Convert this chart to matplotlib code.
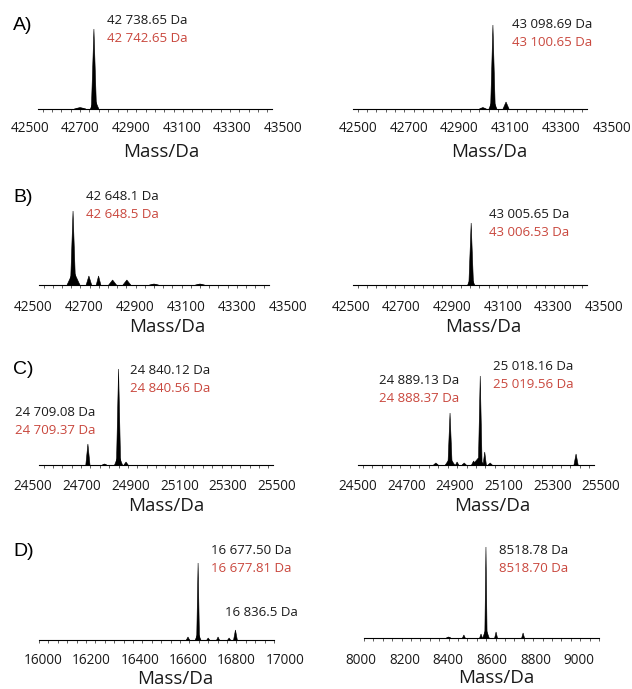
import matplotlib
matplotlib.use("Agg")
import matplotlib.pyplot as plt
from matplotlib.ticker import MultipleLocator

plt.rcParams["font.family"] = ["Open Sans", "DejaVu Sans"]

# peaks: centre (Da), height (relative), half width (Da)
aL_mz = [42680, 42742, 42739]
aL_int = [1.5, 10, 80]
aL_w = [25, 18, 11]

aR_mz = [43055, 43098, 43098, 43154]
aR_int = [1.5, 10, 84, 7]
aR_w = [15, 17, 10, 13]

bL_mz = [42650, 42648, 42717, 42759, 42820, 42882, 43000, 43200]
bL_int = [14, 74, 9, 9, 5, 5, 1, 1]
bL_w = [28, 11, 12, 10, 17, 17, 20, 20]

bR_mz = [43005, 43005]
bR_int = [8, 62]
bR_w = [15, 10]

cL_mz = [24709, 24780, 24840, 24840, 24872]
cL_int = [21, 1, 10, 96, 3]
cL_w = [9, 10, 17, 9, 9]

cR_mz = [24830, 24890, 24890, 24920, 24950, 24990, 25010, 25018, 25037, 25060, 25424]
cR_int = [2, 7, 52, 3, 2, 4, 7, 89, 13, 2, 11]
cR_w = [10, 20, 9, 7, 9, 9, 25, 8, 7, 9, 9]

dL_mz = [16634, 16677, 16677, 16720, 16762, 16809, 16836]
dL_int = [3, 7, 77, 2, 3, 2, 10]
dL_w = [7, 12, 6, 6, 6, 6, 8]

dR_mz = [8360, 8425, 8498, 8519, 8519, 8562, 8677]
dR_int = [1, 3, 4, 9, 91, 6, 5]
dR_w = [10, 6, 6, 14, 5, 6, 6]

ranges = {"A": (42500, 43500), "B": (42500, 43500), "C": (24500, 25500), "D": (16000, 17000)}
dr_range = (8000, 9000)

W, H = 632, 689
fig = plt.figure(figsize=(W / 100, H / 100), dpi=100)
RED = "#c9473d"


def fx(x):
    return x / W


def fy(y):
    return 1 - y / H


def panel(mz, inten, wid, xr, left, right, base, lab0, lab1, laby, massx, massy):
    ax = fig.add_axes([fx(left), fy(base), fx(right - left), 100 / H])
    for c, h, w in zip(mz, inten, wid):
        ax.fill([c - w, c, c + w], [0, h, 0], color="black", lw=0.4)
    ax.set_xlim(*xr)
    ax.set_ylim(0, 100)
    for s in ["top", "right", "left"]:
        ax.spines[s].set_visible(False)
    ax.spines["bottom"].set_linewidth(0.8)
    ax.set_yticks([])
    ax.set_xticks([])
    ax.xaxis.set_minor_locator(MultipleLocator(40))
    ax.tick_params(axis="x", which="minor", length=2.5, width=0.6, color="#444444")
    ax.patch.set_alpha(0)

    # tick labels sit on a wider scale than the axis line
    lab = fig.add_axes([fx(lab0), fy(laby), fx(lab1 - lab0), 0.001], frameon=False)
    lab.set_xlim(*xr)
    lab.set_xticks(range(xr[0], xr[1] + 1, 200))
    lab.tick_params(axis="x", length=0, pad=0, labelsize=9.8, colors="#1a1a1a")
    lab.set_yticks([])
    for t in lab.get_xticklabels():
        t.set_verticalalignment("center")
    fig.text(fx(massx), fy(massy), "Mass/Da", fontsize=13.5, ha="center", va="center", color="#1a1a1a")


panel(aL_mz, aL_int, aL_w, ranges["A"], 38, 272, 109, 30, 283, 128, 161, 152)
panel(aR_mz, aR_int, aR_w, ranges["A"], 353, 587, 109, 358, 612, 128, 489, 152)
panel(bL_mz, bL_int, bL_w, ranges["B"], 39, 269, 285, 33, 288, 307, 167, 327)
panel(bR_mz, bR_int, bR_w, ranges["B"], 353, 587, 285, 351, 604, 307, 483, 327)
panel(cL_mz, cL_int, cL_w, ranges["C"], 39, 273, 465, 33, 277, 486, 166, 506)
panel(cR_mz, cR_int, cR_w, ranges["C"], 358, 594, 465, 358, 601, 486, 492, 506)
panel(dL_mz, dL_int, dL_w, ranges["D"], 39, 274, 640, 43, 285, 661, 175, 679)
panel(dR_mz, dR_int, dR_w, dr_range, 364, 599, 638, 361, 579, 661, 496, 678)

# panel letters
for letter, y in [("A)", 26), ("B)", 197), ("C)", 370), ("D)", 552)]:
    fig.text(fx(13), fy(y), letter, fontsize=14, family="Liberation Sans", va="center", ha="left")

# annotations: measured (black) / calculated (red)
notes = [
    ("42 738.65 Da", "42 742.65 Da", 107, 21),
    ("43 098.69 Da", "43 100.65 Da", 512, 25),
    ("42 648.1 Da", "42 648.5 Da", 86, 197),
    ("43 005.65 Da", "43 006.53 Da", 489, 215),
    ("24 840.12 Da", "24 840.56 Da", 130, 370),
    ("24 709.08 Da", "24 709.37 Da", 15, 412),
    ("25 018.16 Da", "25 019.56 Da", 493, 366),
    ("24 889.13 Da", "24 888.37 Da", 379, 381),
    ("16 677.50 Da", "16 677.81 Da", 211, 551),
    ("8518.78 Da", "8518.70 Da", 499, 551),
]
for black, red, x, y in notes:
    fig.text(fx(x), fy(y), black, fontsize=9.5, va="center", ha="left", color="#1a1a1a")
    fig.text(fx(x), fy(y + 18), red, fontsize=9.5, va="center", ha="left", color=RED)
fig.text(fx(225), fy(612), "16 836.5 Da", fontsize=9.5, va="center", ha="left", color="#1a1a1a")

fig.savefig("out.png", dpi=100, facecolor="white")
